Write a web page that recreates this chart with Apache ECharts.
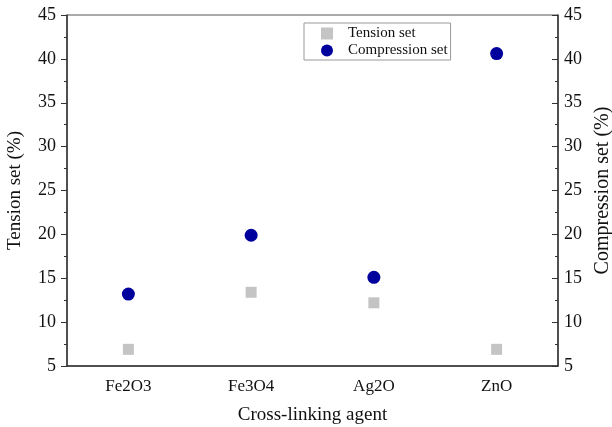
<!DOCTYPE html>
<html>
<head>
<meta charset="utf-8">
<script src="https://cdn.jsdelivr.net/npm/echarts@6/dist/echarts.min.js"></script>
<style>
  html, body { margin: 0; padding: 0; background: #fff; }
  #chart { width: 612px; height: 427px; }
</style>
</head>
<body>
<div id="chart"></div>
<script>
  // data
  var agents = ['Fe2O3', 'Fe3O4', 'Ag2O', 'ZnO'];
  var tensionSet = [6.9, 13.4, 12.2, 6.9];
  var compressionSet = [13.2, 19.9, 15.1, 40.6];

  var font = 'Liberation Serif';
  var axisColor = '#333';

  var chart = echarts.init(document.getElementById('chart'));

  chart.setOption({
    animation: false,
    grid: {
      left: 67, right: 54, top: 15, bottom: 61,
      outerBoundsMode: 'none',
      show: true, borderColor: '#555', borderWidth: 1
    },
    legend: {
      orient: 'vertical',
      left: 304, top: 23,
      padding: [3, 3, 2, 17],
      itemGap: 2,
      itemWidth: 12, itemHeight: 12,
      borderColor: '#999', borderWidth: 1,
      backgroundColor: '#fff',
      textStyle: { fontFamily: font, fontSize: 15, color: '#111', padding: [0, 0, 0, 10] },
      data: [
        { name: 'Tension set', icon: 'rect' },
        { name: 'Compression set', icon: 'circle' }
      ]
    },
    xAxis: [
      {
        type: 'category',
        data: agents,
        name: 'Cross-linking agent',
        nameLocation: 'middle',
        nameGap: 40,
        nameTextStyle: { fontFamily: font, fontSize: 19, color: '#111' },
        axisLine: { lineStyle: { color: axisColor, width: 1.5 } },
        axisTick: { alignWithLabel: true, length: 6, lineStyle: { color: axisColor } },
        axisLabel: { fontFamily: font, fontSize: 17, color: '#111', margin: 12 },
        splitLine: { show: false }
      },
      {
        type: 'category',
        data: agents,
        position: 'bottom',
        axisLine: { show: false },
        axisTick: { length: 3, lineStyle: { color: axisColor } },
        axisLabel: { show: false },
        splitLine: { show: false }
      }
    ],
    yAxis: [
      {
        type: 'value',
        min: 5, max: 45, interval: 5,
        name: 'Tension set (%)',
        nameLocation: 'middle',
        nameRotate: 90,
        nameGap: 42,
        nameTextStyle: { fontFamily: font, fontSize: 19, color: '#111' },
        axisLine: { show: true, lineStyle: { color: axisColor, width: 1.5 } },
        axisTick: { show: true, length: 6, lineStyle: { color: axisColor } },
        minorTick: { show: true, splitNumber: 2, length: 3, lineStyle: { color: axisColor } },
        axisLabel: { fontFamily: font, fontSize: 18, color: '#111', margin: 11 },
        splitLine: { show: false }
      },
      {
        type: 'value',
        position: 'right',
        min: 5, max: 45, interval: 5,
        name: 'Compression set (%)',
        nameLocation: 'middle',
        nameRotate: 90,
        nameGap: 30,
        nameTextStyle: { fontFamily: font, fontSize: 20, color: '#111' },
        axisLine: { show: true, lineStyle: { color: axisColor, width: 1.5 } },
        axisTick: { show: true, inside: true, length: 6, lineStyle: { color: axisColor } },
        minorTick: { show: true, splitNumber: 2, length: 3, lineStyle: { color: axisColor } },
        axisLabel: { fontFamily: font, fontSize: 18, color: '#111', margin: 6 },
        splitLine: { show: false }
      }
    ],
    series: [
      {
        name: 'Tension set',
        type: 'scatter',
        xAxisIndex: 0,
        yAxisIndex: 0,
        symbol: 'rect',
        symbolSize: 11,
        itemStyle: { color: '#c4c4c4', opacity: 1 },
        data: tensionSet
      },
      {
        name: 'Compression set',
        type: 'scatter',
        xAxisIndex: 0,
        yAxisIndex: 1,
        symbol: 'circle',
        symbolSize: 13,
        itemStyle: { color: '#00009c', opacity: 1 },
        data: compressionSet
      }
    ]
  });
</script>
</body>
</html>
